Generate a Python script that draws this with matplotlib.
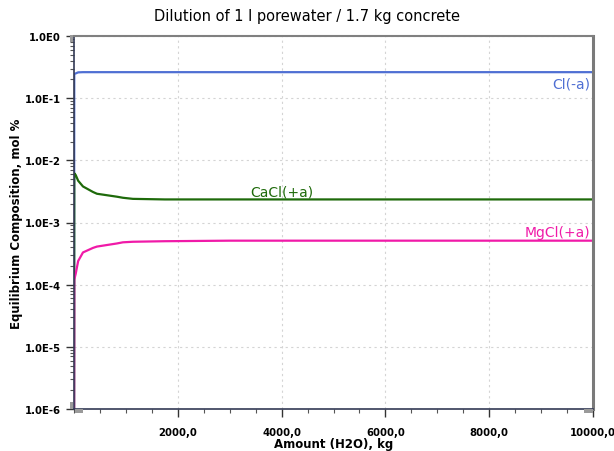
import matplotlib
matplotlib.use("Agg")
import matplotlib.pyplot as plt
from matplotlib.patches import Rectangle
from matplotlib.ticker import FixedLocator, FuncFormatter, MultipleLocator, LogLocator, NullFormatter

# Amount of water added (kg) and equilibrium composition (mol %)
water_kg = [0, 5, 33, 80, 173, 365, 442, 827, 942, 1135, 1750, 3000, 5000, 7500, 10000]
cl_minus = [1e-7, 0.245, 0.25, 0.26, 0.262, 0.262, 0.262, 0.262, 0.262, 0.262, 0.262, 0.262, 0.262, 0.262, 0.262]
cacl_plus = [1e-7, 0.0062, 0.0058, 0.0047, 0.0038, 0.0031, 0.0029, 0.0026, 0.0025, 0.0024, 0.00235, 0.00235, 0.00235, 0.00235, 0.00235]
mgcl_plus = [1e-7, 1.2e-4, 1.5e-4, 2.4e-4, 3.3e-4, 3.9e-4, 4.1e-4, 4.6e-4, 4.8e-4, 4.9e-4, 5.0e-4, 5.1e-4, 5.1e-4, 5.1e-4, 5.1e-4]

series_names = ["Cl(-a)", "CaCl(+a)", "MgCl(+a)"]
series_colors = ["#4f6fd3", "#1e6a0a", "#f01aa8"]

x_ticks = [2000, 4000, 6000, 8000, 10000]
y_ticks = [1e-6, 1e-5, 1e-4, 1e-3, 1e-2, 1e-1, 1e0]
y_tick_labels = ["1.0E-6", "1.0E-5", "1.0E-4", "1.0E-3", "1.0E-2", "1.0E-1", "1.0E0"]

fig = plt.figure(figsize=(6.14, 4.52), dpi=100)
ax = fig.add_axes([74 / 614, 1 - 410 / 452, (593 - 74) / 614, (410 - 37) / 452])

for ys, color in zip([cl_minus, cacl_plus, mgcl_plus], series_colors):
    ax.plot(water_kg, ys, color=color, lw=1.6, solid_joinstyle="round")

ax.set_yscale("log")
ax.set_xlim(0, 10000)
ax.set_ylim(1e-6, 1.0)

ax.xaxis.set_major_locator(FixedLocator(x_ticks))
ax.xaxis.set_major_formatter(FuncFormatter(lambda v, p: f"{v:.1f}".replace(".", ",")))
ax.xaxis.set_minor_locator(MultipleLocator(500))
ax.yaxis.set_major_locator(FixedLocator(y_ticks))
ax.set_yticklabels(y_tick_labels)
ax.yaxis.set_minor_locator(LogLocator(base=10, subs=[2, 3, 4, 5, 6, 7, 8, 9], numticks=20))
ax.yaxis.set_minor_formatter(NullFormatter())

ax.grid(True, which="major", color="#d4d4d4", ls=(0, (2, 3)), lw=0.8)
ax.tick_params(axis="both", which="major", length=6, width=1, color="#333333",
               labelsize=7.3, direction="out")
ax.tick_params(axis="both", which="minor", length=3, width=0.8, color="#555555")
for lab in ax.get_xticklabels() + ax.get_yticklabels():
    lab.set_fontweight("bold")
ax.tick_params(axis="x", pad=7)

for side in ["left", "bottom"]:
    ax.spines[side].set_color("#333a55")
    ax.spines[side].set_linewidth(1.2)
ax.spines["top"].set_color("#808080")
ax.spines["top"].set_linewidth(1.5)
ax.spines["right"].set_color("#7a7a7a")
ax.spines["right"].set_linewidth(2.2)

fig.text(0.5, 1 - 17 / 452, "Dilution of 1 l porewater / 1.7 kg concrete",
         fontsize=10.5, ha="center", va="center")
ax.set_xlabel("Amount (H2O), kg", fontsize=8.5, fontweight="bold", labelpad=0)
ax.set_ylabel("Equilibrium Composition, mol %", fontsize=8.5, fontweight="bold", labelpad=1)

ax.text(9940, 0.175, series_names[0], color=series_colors[0], fontsize=10,
        ha="right", va="center")
ax.text(4000, 0.0031, series_names[1], color=series_colors[1], fontsize=10,
        ha="center", va="center")
ax.text(9940, 7.0e-4, series_names[2], color=series_colors[2], fontsize=10,
        ha="right", va="center")

# scroll handles at the axis ends
for (x0, y0, w, h) in [(75, 410, 8, 4), (584, 410, 9, 4), (70, 36, 3, 7), (70, 403, 3, 7)]:
    fig.add_artist(Rectangle((x0 / 614, 1 - (y0 + h) / 452), w / 614, h / 452,
                             transform=fig.transFigure, color="#9a9a9a", lw=0))

fig.savefig("out.png", dpi=100)
